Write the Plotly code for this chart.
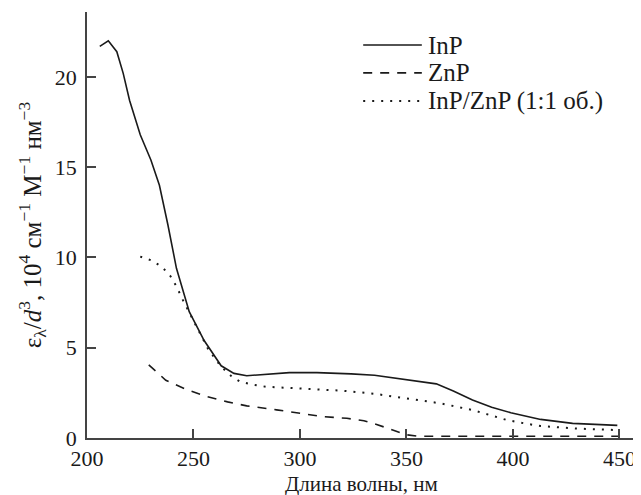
import plotly.graph_objects as go

# ---- data ----
inp_x = [206, 210, 214, 217, 220, 225, 230, 234, 238, 242, 248, 255, 263, 269, 275,
         285, 295, 308, 319, 324, 335, 350, 364, 372, 381, 390, 399, 413, 428, 449]
inp_y = [21.7, 22.0, 21.4, 20.2, 18.7, 16.8, 15.4, 14.0, 11.8, 9.4, 7.0, 5.4, 4.0, 3.58, 3.45,
         3.55, 3.62, 3.62, 3.58, 3.55, 3.48, 3.25, 3.0, 2.6, 2.1, 1.7, 1.4, 1.03, 0.81, 0.7]

znp_x = [229, 237, 247, 256, 266, 275, 289, 300, 311, 322, 330, 336, 341, 346, 350,
         355, 370, 400, 430, 450]
znp_y = [4.05, 3.2, 2.67, 2.3, 2.0, 1.78, 1.56, 1.37, 1.18, 1.09, 0.96, 0.75, 0.54, 0.33, 0.18,
         0.1, 0.1, 0.1, 0.1, 0.1]

mix_x = [225, 230, 235, 239, 242, 245, 250, 257, 263, 268, 272, 278, 284, 300, 320,
         335, 350, 366, 381, 390, 397, 405, 413, 430, 449]
mix_y = [10.05, 9.85, 9.5, 9.0, 8.4, 7.65, 6.5, 4.9, 3.95, 3.4, 3.12, 2.95, 2.84, 2.75, 2.62,
         2.45, 2.2, 1.92, 1.55, 1.25, 1.0, 0.82, 0.66, 0.52, 0.44]

x_ticks = [200, 250, 300, 350, 400, 450]
y_ticks = [0, 5, 10, 15, 20]
names = ["InP", "ZnP", "InP/ZnP (1:1 об.)"]
x_title = "Длина волны, нм"
y_title = ("ε<sub>λ</sub>/<i>d</i><sup>3</sup>, 10<sup>4</sup> см<sup>−1</sup> "
           "М<sup>−1</sup> нм<sup>−3</sup>")

FONT = "Liberation Serif"
INK = "#1a1a1a"
styles = [dict(dash="solid", width=1.6), dict(dash="9px,8px", width=1.6),
          dict(dash="2px,7px", width=2.0)]

fig = go.Figure()
for xs, ys, nm, st in zip([inp_x, znp_x, mix_x], [inp_y, znp_y, mix_y], names, styles):
    fig.add_trace(go.Scatter(x=xs, y=ys, mode="lines", name=nm,
                             line=dict(color=INK, width=st["width"], dash=st["dash"]),
                             showlegend=False))

# manual legend (longer sample lines like the reference)
leg_y = [0.9225, 0.857, 0.791]
for nm, st, yy in zip(names, styles, leg_y):
    fig.add_shape(type="line", xref="paper", yref="paper", x0=0.504, x1=0.611, y0=yy, y1=yy,
                  line=dict(color=INK, width=st["width"], dash=st["dash"]))
    fig.add_annotation(xref="paper", yref="paper", x=0.619, y=yy, text=nm, showarrow=False,
                       xanchor="left", yanchor="middle",
                       font=dict(family=FONT, size=25, color=INK))

# axis titles
fig.add_annotation(xref="paper", yref="paper", x=0.5, y=-0.1085, text=x_title,
                   showarrow=False, xanchor="center", yanchor="middle",
                   font=dict(family=FONT, size=21, color=INK))
fig.add_annotation(xref="paper", yref="paper", x=-0.1, y=0.5, text=y_title, textangle=-90,
                   showarrow=False, xanchor="center", yanchor="middle",
                   font=dict(family=FONT, size=25, color=INK))

axis_common = dict(showline=True, linecolor="#444", linewidth=1.5, ticks="inside",
                   ticklen=9, tickwidth=1.5, tickcolor="#444", showgrid=False, zeroline=False,
                   tickfont=dict(family=FONT, size=22, color=INK), mirror=False)

fig.update_xaxes(range=[200, 457.3], tickvals=x_ticks, ticktext=[str(v) for v in x_ticks],
                 ticklabelstandoff=0, **axis_common)
fig.update_yaxes(range=[0, 23.6], tickvals=y_ticks, ticktext=[str(v) for v in y_ticks],
                 ticklabelstandoff=4, **axis_common)

# page body has an 8px margin: figure is 633x487 so it fits the 641x495 window
fig.update_layout(width=633, height=487, margin=dict(l=79, r=6, t=4, b=57),
                  plot_bgcolor="white", paper_bgcolor="white",
                  font=dict(family=FONT, color=INK))

fig.write_html("out.html", post_script="document.body.style.overflow='hidden';")
